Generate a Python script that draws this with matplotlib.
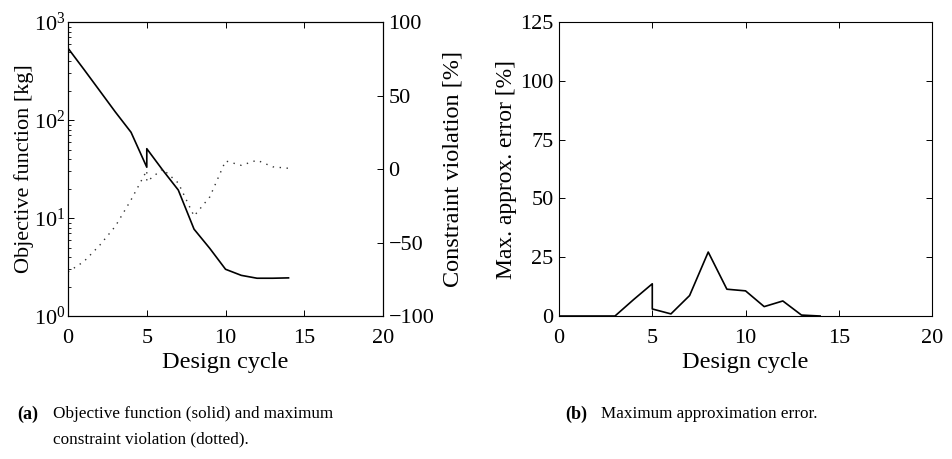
import numpy as np
import matplotlib
matplotlib.use('Agg')
import matplotlib.pyplot as plt
from matplotlib.ticker import LogLocator, LogFormatterMathtext, NullFormatter

plt.rcParams['font.family'] = ['Liberation Serif', 'DejaVu Serif']
plt.rcParams['mathtext.fontset'] = 'custom'
plt.rcParams['mathtext.rm'] = 'Liberation Serif'
plt.rcParams['mathtext.it'] = 'Liberation Serif:italic'
plt.rcParams['xtick.direction'] = 'in'
plt.rcParams['ytick.direction'] = 'in'

# design cycle (cycle 5 appears twice: value before and after the jump)
cycle = [0, 1, 2, 3, 4, 5, 5, 6, 7, 8, 9, 10, 11, 12, 13, 14]
objective = [540, 330, 200, 121, 75, 33, 51, 31, 19.3, 7.7, 4.9, 3.0, 2.6, 2.43, 2.43, 2.45]
violation = [-70, -63, -52, -39, -21, -1, -8.6, 0, -9.5, -32, -19, 5.5, 2.5, 6, 1.5, 0.5]
approx_err = [0, 0, 0, 0, 7, 13.7, 3, 0.9, 8.7, 27.2, 11.4, 10.7, 4, 6.4, 0.4, 0]

fs = 16  # tick labels
fig = plt.figure(figsize=(9.53, 4.59), dpi=100)

# (a) objective function + constraint violation
ax = fig.add_axes([0.0714, 0.3115, 0.3305, 0.6405])
ax.semilogy(cycle, objective, color='black', lw=1.2)
ax.set_xlim(0, 20)
ax.set_ylim(1, 1000)
ax.set_xticks([0, 5, 10, 15, 20])
ax.yaxis.set_major_locator(LogLocator(base=10))
ax.yaxis.set_major_formatter(LogFormatterMathtext())
ax.yaxis.set_minor_locator(LogLocator(base=10, subs=np.arange(2, 10)))
ax.yaxis.set_minor_formatter(NullFormatter())
ax.tick_params(axis='both', which='major', labelsize=fs, length=4, width=0.7, top=True)
ax.tick_params(axis='x', pad=9)
ax.tick_params(axis='y', pad=2)
ax.tick_params(axis='y', which='minor', length=2.5, width=0.6)
ax.set_xlabel('Design cycle', fontsize=17.5, labelpad=3)
ax.set_ylabel('Objective function [kg]', fontsize=16, labelpad=0)

ax2 = ax.twinx()
ax2.plot(cycle, violation, color='#333333', lw=1.0, linestyle=(0, (1, 4)))
ax2.set_ylim(-100, 100)
ax2.set_yticks([-100, -50, 0, 50, 100])
ax2.tick_params(axis='y', labelsize=fs, length=4, width=0.7, pad=4)
ax2.set_ylabel('Constraint violation [%]', fontsize=17.5, labelpad=6)

# (b) max approximation error
bx = fig.add_axes([0.5866, 0.3115, 0.3914, 0.6405])
bx.plot(cycle, approx_err, color='black', lw=1.2)
bx.set_xlim(0, 20)
bx.set_ylim(0, 125)
bx.set_xticks([0, 5, 10, 15, 20])
bx.set_yticks([0, 25, 50, 75, 100, 125])
bx.tick_params(axis='both', labelsize=fs, length=4, width=0.7, top=True, right=True)
bx.tick_params(axis='x', pad=9)
bx.tick_params(axis='y', pad=4)
bx.set_xlabel('Design cycle', fontsize=17.5, labelpad=3)
bx.set_ylabel('Max. approx. error [%]', fontsize=17, labelpad=2)

for a in (ax, ax2, bx):
    for s in a.spines.values():
        s.set_linewidth(0.8)

# captions
cap = 12.3
fig.text(0.018, 1 - 414 / 459, '(a)', fontsize=13, fontweight='bold', va='center')
fig.text(0.056, 1 - 414 / 459, 'Objective function (solid) and maximum', fontsize=cap, va='center')
fig.text(0.056, 1 - 439 / 459, 'constraint violation (dotted).', fontsize=cap, va='center')
fig.text(0.593, 1 - 414 / 459, '(b)', fontsize=13, fontweight='bold', va='center')
fig.text(0.631, 1 - 414 / 459, 'Maximum approximation error.', fontsize=cap, va='center')

fig.savefig('out.png', dpi=100)
